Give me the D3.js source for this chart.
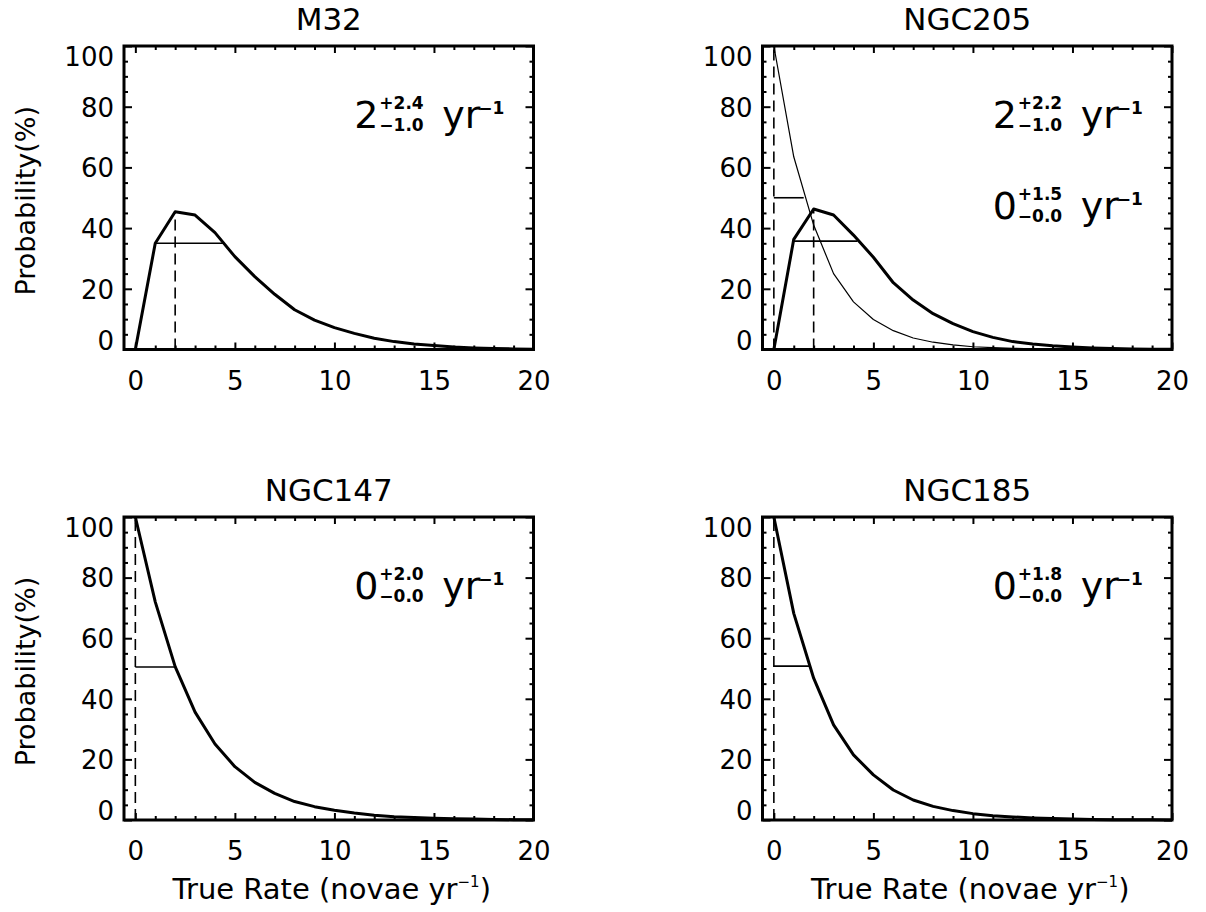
<!DOCTYPE html>
<html>
<head>
<meta charset="utf-8">
<script src="https://cdn.jsdelivr.net/npm/d3@7"></script>
<style>
  body { margin: 0; background: #fff; }
  svg { display: block; font-family: 'DejaVu Sans', sans-serif; }
  .tick line { stroke: #000; stroke-width: 2; }
  .tick text { font-family: 'DejaVu Sans', sans-serif; font-size: 26px; fill: #000; }
</style>
</head>
<body>
<svg id="chart" width="1206" height="912"></svg>
<script>
// true rate grid (novae / yr)
const rates = [0, 1, 2, 3, 4, 5, 6, 7, 8, 9, 10, 11, 12, 13, 14, 15, 16, 17, 18, 19, 20]

// probability (%)
const m32 = [0, 35.0, 45.4, 44.3, 38.5, 30.6, 24.0, 18.2, 13.1, 9.7, 7.2, 5.3, 3.7, 2.6, 1.8, 1.3, 0.8, 0.5, 0.3, 0.2, 0.1]
const ngc205 = [0, 36.3, 46.3, 44.3, 37.7, 30.4, 22.0, 16.3, 11.8, 8.5, 5.9, 4.0, 2.6, 1.8, 1.2, 0.8, 0.5, 0.3, 0.2, 0.1, 0.1]
const ngc205Zero = [100, 63.5, 41.0, 25.0, 15.7, 9.9, 6.2, 3.8, 2.4, 1.5, 0.9, 0.6, 0.4, 0.2, 0.1, 0.1, 0, 0, 0, 0, 0]
const ngc147 = [100, 72.0, 50.6, 35.6, 25.1, 17.6, 12.4, 8.8, 6.1, 4.4, 3.2, 2.3, 1.6, 1.1, 0.8, 0.6, 0.4, 0.3, 0.2, 0.1, 0.1]
const ngc185 = [100, 68.2, 46.8, 31.4, 21.5, 14.9, 9.9, 6.6, 4.5, 3.1, 2.1, 1.4, 1.0, 0.7, 0.5, 0.3, 0.2, 0.1, 0.1, 0.1, 0]

// rate estimates, one per curve
const estBest = [2, 2, 0, 0, 0]
const estPlus = [2.4, 2.2, 1.5, 2.0, 1.8]
const estMinus = [1.0, 1.0, 0.0, 0.0, 0.0]
const estLevel = [35.0, 35.7, 50.0, 50.5, 50.8]

const titles = ['M32', 'NGC205', 'NGC147', 'NGC185']
const xTicks = [0, 5, 10, 15, 20]
const xMinor = [1, 2, 3, 4, 6, 7, 8, 9, 11, 12, 13, 14, 16, 17, 18, 19]
const yTicks = [0, 20, 40, 60, 80, 100]
const yMinor = [5, 10, 15, 25, 30, 35, 45, 50, 55, 65, 70, 75, 85, 90, 95]

const curves = [m32, ngc205, ngc205Zero, ngc147, ngc185]
const curveWidth = [3, 3, 1.2, 3, 3]
const curveRow = [73, 73, 43, 73, 73] // where the estimate label sits (data y)

const panels = [
  { title: 0, curves: [0], left: 124, right: 533.5, top: 46, bottom: 349.5, yLabel: true, xLabel: false },
  { title: 1, curves: [1, 2], left: 762.5, right: 1172, top: 46, bottom: 349.5, yLabel: false, xLabel: false },
  { title: 2, curves: [3], left: 124, right: 533.5, top: 517, bottom: 820, yLabel: true, xLabel: true },
  { title: 3, curves: [4], left: 762.5, right: 1172, top: 517, bottom: 820, yLabel: false, xLabel: true },
]

const svg = d3.select('#chart')

function estimateLabel(g, x0, y0, i) {
  const t = g.append('g').attr('transform', `translate(${x0},${y0})`)
  t.append('text').attr('font-size', 38).text(estBest[i])
  t.append('text')
    .attr('x', 25).attr('y', -19)
    .attr('font-size', 17).attr('font-weight', 'bold')
    .text('+' + estPlus[i].toFixed(1))
  t.append('text')
    .attr('x', 25).attr('y', 3)
    .attr('font-size', 17).attr('font-weight', 'bold')
    .text('\u2212' + estMinus[i].toFixed(1))
  t.append('text').attr('x', 88).attr('font-size', 38).text('yr')
  t.append('text')
    .attr('x', 124).attr('y', -14)
    .attr('font-size', 17).attr('font-weight', 'bold')
    .text('\u22121')
}

panels.forEach(p => {
  const x = d3.scaleLinear().domain([-0.57, 20]).range([p.left, p.right])
  const y = d3.scaleLinear().domain([0, 100]).range([p.bottom, p.top])
  const g = svg.append('g')

  // axes: major + minor ticks on all four sides, pointing inward
  const addAxis = (axis, tx, ty) => {
    const a = g.append('g').attr('transform', `translate(${tx},${ty})`).call(axis)
    a.select('.domain').remove()
    return a
  }
  addAxis(d3.axisBottom(x).tickValues(xTicks).tickSize(-7).tickPadding(22).tickFormat(d3.format('d')), 0, p.bottom)
  addAxis(d3.axisBottom(x).tickValues(xMinor).tickSize(-4).tickFormat(''), 0, p.bottom)
  addAxis(d3.axisTop(x).tickValues(xTicks).tickSize(-7).tickFormat(''), 0, p.top)
  addAxis(d3.axisTop(x).tickValues(xMinor).tickSize(-4).tickFormat(''), 0, p.top)
  const gy = addAxis(d3.axisLeft(y).tickValues(yTicks).tickSize(-8).tickPadding(10).tickFormat(d3.format('d')), p.left, 0)
  addAxis(d3.axisLeft(y).tickValues(yMinor).tickSize(-4).tickFormat(''), p.left, 0)
  addAxis(d3.axisRight(y).tickValues(yTicks).tickSize(-8).tickFormat(''), p.right, 0)
  addAxis(d3.axisRight(y).tickValues(yMinor).tickSize(-4).tickFormat(''), p.right, 0)

  // end labels are kept inside the axis span
  gy.selectAll('.tick text')
    .attr('dy', '0.36em')
    .attr('y', d => Math.max(p.top + 10.5, Math.min(p.bottom - 9.5, y(d))) - y(d))

  g.append('rect')
    .attr('x', p.left).attr('y', p.top)
    .attr('width', p.right - p.left).attr('height', p.bottom - p.top)
    .attr('fill', 'none').attr('stroke', '#000').attr('stroke-width', 3)

  const line = d3.line().x((d, i) => x(rates[i])).y(d => y(d))

  p.curves.forEach(c => {
    const vals = curves[c]
    g.append('path')
      .attr('d', line(vals))
      .attr('fill', 'none').attr('stroke', '#000')
      .attr('stroke-width', curveWidth[c]).attr('stroke-linejoin', 'round')

    // dashed marker at the most probable rate
    const b = estBest[c]
    g.append('line')
      .attr('x1', x(b)).attr('x2', x(b))
      .attr('y1', y(0)).attr('y2', y(vals[rates.indexOf(b)]))
      .attr('stroke', '#000').attr('stroke-width', 1.6).attr('stroke-dasharray', '11,6')

    // confidence range
    g.append('line')
      .attr('x1', x(b - estMinus[c])).attr('x2', x(b + estPlus[c]))
      .attr('y1', y(estLevel[c])).attr('y2', y(estLevel[c]))
      .attr('stroke', '#000').attr('stroke-width', 1.6)

    estimateLabel(g, x(11.0), y(curveRow[c]), c)
  })

  g.append('text')
    .attr('x', (p.left + p.right) / 2).attr('y', p.top - 16)
    .attr('text-anchor', 'middle').attr('font-size', 31)
    .text(titles[p.title])

  if (p.yLabel) {
    g.append('text')
      .attr('transform', `translate(35,${(p.top + p.bottom) / 2 + 3}) rotate(-90)`)
      .attr('text-anchor', 'middle').attr('font-size', 27)
      .text('Probability(%)')
  }

  if (p.xLabel) {
    const t = g.append('text')
      .attr('x', (p.left + p.right) / 2 + 3).attr('y', p.bottom + 79)
      .attr('text-anchor', 'middle').attr('font-size', 29)
    t.append('tspan').text('True Rate (novae yr')
    t.append('tspan').attr('font-size', 15).attr('dy', -12).text('\u22121')
    t.append('tspan').attr('dy', 12).text(')')
  }
})
</script>
</body>
</html>
